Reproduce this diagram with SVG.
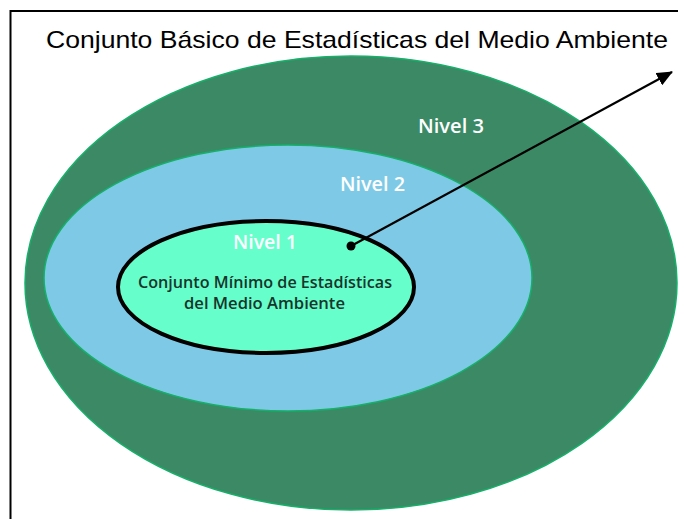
<svg xmlns="http://www.w3.org/2000/svg" width="678" height="519" viewBox="0 0 678 519">
  <defs>
    <style>
      .title { font-family: "Liberation Sans", Arial, sans-serif; font-size: 24px; fill: #000; }
      .lvl { font-family: "Open Sans", "Noto Sans", sans-serif; font-size: 19px; font-weight: 600; fill: #ffffff; }
      .inner { font-family: "Open Sans", "Noto Sans", sans-serif; font-size: 15.5px; font-weight: 600; fill: #17352a; }
      .ring { stroke: #16b06a; stroke-width: 1.5; }
    </style>
    <marker id="arrow" viewBox="0 0 16 14" refX="15" refY="7" markerWidth="16" markerHeight="14" markerUnits="userSpaceOnUse" orient="auto">
      <path d="M0,0 L16,7 L0,14 z" fill="#000"/>
    </marker>
  </defs>
  <rect width="678" height="519" fill="#ffffff"/>
  <g id="frame">
    <path d="M10.5,519 L10.5,11 L678,11" fill="none" stroke="#000" stroke-width="2"/>
  </g>
  <text class="title" x="46" y="48" textLength="622" lengthAdjust="spacingAndGlyphs">Conjunto Básico de Estadísticas del Medio Ambiente</text>
  <g id="nivel3">
    <ellipse class="ring" cx="351" cy="283" rx="326" ry="227" fill="#3b8a65"/>
    <text class="lvl" x="418" y="133" textLength="66" lengthAdjust="spacingAndGlyphs">Nivel 3</text>
  </g>
  <g id="nivel2">
    <ellipse class="ring" cx="288" cy="278" rx="244" ry="133" fill="#7ecae6"/>
    <text class="lvl" x="340" y="191" textLength="65" lengthAdjust="spacingAndGlyphs">Nivel 2</text>
  </g>
  <g id="nivel1">
    <ellipse cx="266" cy="287" rx="148" ry="66" fill="#66ffcc" stroke="#000" stroke-width="4"/>
    <text class="lvl" x="233" y="249" textLength="64" lengthAdjust="spacingAndGlyphs">Nivel 1</text>
    <text class="inner" x="138" y="288" textLength="254" lengthAdjust="spacingAndGlyphs">Conjunto Mínimo de Estadísticas</text>
    <text class="inner" x="184" y="309" textLength="161" lengthAdjust="spacingAndGlyphs">del Medio Ambiente</text>
  </g>
  <g id="connectors">
    <circle cx="351" cy="246" r="4.5" fill="#000"/>
    <line x1="351" y1="246" x2="672" y2="72" stroke="#000" stroke-width="2.2" marker-end="url(#arrow)"/>
  </g>
</svg>
